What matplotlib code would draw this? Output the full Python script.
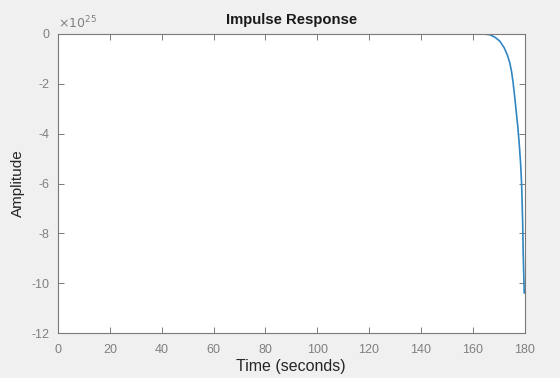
import matplotlib
matplotlib.use("Agg")
import matplotlib.pyplot as plt

# Data (amplitude in units of 1e25)
time_s = [0, 50, 100, 150, 160, 164.1, 166.7, 168.6, 170.5, 172.2, 173.4, 174.3,
          175.0, 175.6, 176.2, 176.7, 177.4, 178.0, 178.5, 178.9, 179.3, 179.5, 179.9]
amplitude = [0, 0, 0, 0, 0, 0, -0.03, -0.13, -0.29, -0.56, -0.85, -1.15,
             -1.5, -1.95, -2.5, -3.0, -3.7, -4.45, -5.2, -6.06, -7.6, -8.79, -10.39]
x_ticks = [0, 20, 40, 60, 80, 100, 120, 140, 160, 180]
y_ticks = [0, -2, -4, -6, -8, -10, -12]

plt.rcParams['font.family'] = ['Liberation Sans', 'DejaVu Sans']
plt.rcParams['axes.unicode_minus'] = False

fig = plt.figure(figsize=(5.6, 3.78), dpi=100, facecolor='#f0f0f0')
ax = fig.add_axes([58/560, 45/378, 466.5/560, 299/378])
ax.set_facecolor('white')

ax.plot(time_s, amplitude, color='#2f86c2', linewidth=1.2)

ax.set_xlim(0, 180)
ax.set_ylim(-12, 0)
ax.set_xticks(x_ticks)
ax.set_yticks(y_ticks)

grey = '#7a7a7a'
for s in ax.spines.values():
    s.set_color(grey)
    s.set_linewidth(0.8)
ax.tick_params(direction='in', length=4, width=0.7, colors=grey,
               labelsize=9, top=True, right=True, labelcolor='#808080')
ax.tick_params(axis='x', pad=8)
ax.tick_params(axis='y', pad=6)

ax.set_title('Impulse Response', fontsize=10.7, fontweight='bold', color='#1a1a1a', pad=7)
ax.set_xlabel('Time (seconds)', fontsize=11.5, color='#262626', labelpad=2)
ax.set_ylabel('Amplitude', fontsize=11, color='#262626', labelpad=5)

ax.text(0.0, 1.01, r'$\times10^{25}$', transform=ax.transAxes, fontsize=9,
        color='#808080', ha='left', va='bottom')

fig.savefig('out.png', dpi=100, facecolor=fig.get_facecolor())
